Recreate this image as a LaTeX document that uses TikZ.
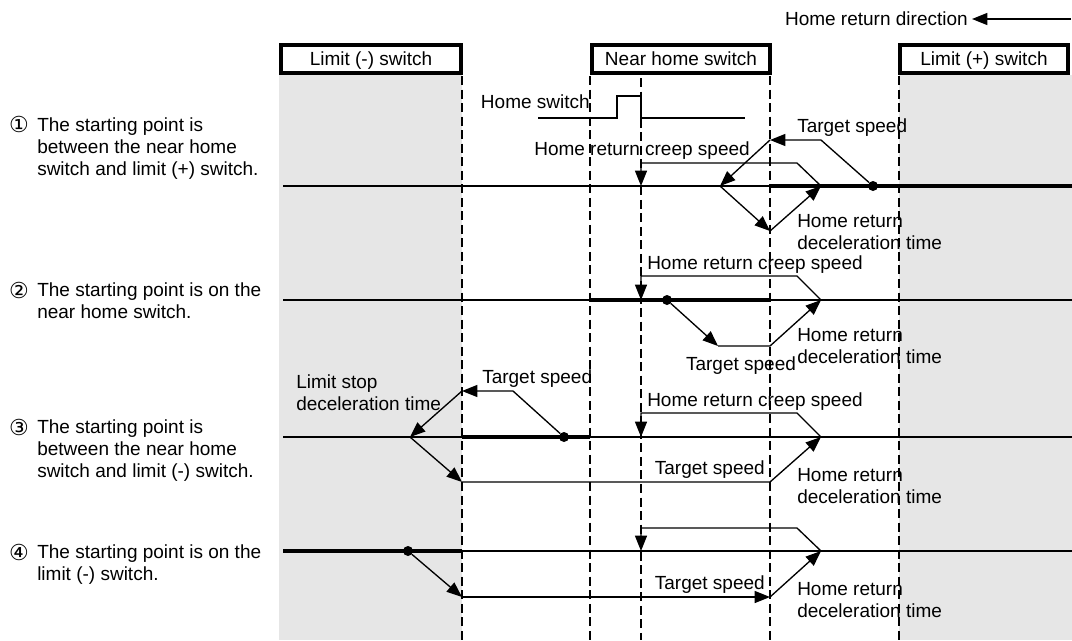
\documentclass[tikz,border=0pt]{standalone}
\usepackage{fontspec}
\setmainfont{Liberation Sans}
\newfontfamily\kreisziffer{DejaVu Sans}
\usetikzlibrary{arrows.meta}
\definecolor{zone}{RGB}{230,230,230}
\tikzset{txt/.style={inner sep=0pt, align=left, font=\fontsize{14.25pt}{16.5pt}\selectfont},
         ziffer/.style={inner sep=0pt, font=\kreisziffer\fontsize{16.5pt}{16.5pt}\selectfont},
         schalter/.style={draw, line width=3pt, fill=white, minimum height=21pt, inner sep=0pt,
                          text height=10pt, text depth=0pt, font=\fontsize{14.25pt}{16.5pt}\selectfont},
         grenze/.style={line width=1.5pt, dash pattern=on 6.75pt off 3.4pt},
         achse/.style={line width=1.5pt},
         dick/.style={line width=3.4pt},
         verlauf/.style={line width=1pt},
         punkt/.style={circle, fill=black, inner sep=0pt, minimum size=7.5pt}}

\begin{document}
\begin{tikzpicture}[>={Triangle[length=11.5pt,width=9pt]}, x=0.75pt, y=-0.75pt]
    \useasboundingbox (0,0) rectangle (1072,640);
    \fill[zone] (279,75) rectangle (462,640);
    \fill[zone] (899,75) rectangle (1072,640);
    \path node [schalter, minimum width=135pt] (lminus) at (371,59) {Limit (-) switch}
          node [schalter, minimum width=133.5pt] (near) at (681,59) {Near home switch}
          node [schalter, minimum width=126pt] (lplus) at (984,59) {Limit (+) switch};
    \foreach \x/\y in {462/76, 590/76, 641/78, 770/76, 899/76}
        \draw[grenze] (\x,\y) -- (\x,640);

    \node[txt, anchor=base east] (richtung) at (968,25) {Home return direction};
    \path coordinate (r0) at (1071,19) coordinate (r1) at (972,19)
          (r0) edge[line width=1pt, ->] (r1);

    \node[txt, anchor=base east] (hslabel) at (590,108) {Home switch};
    \draw[achse] (538,118) -- (617,118) -- (617,96) -- (641,96) -- (641,118) -- (745,118);

    \path node[ziffer] (k1) at (19,124) {①}
          node[txt, anchor=base west] (fall1) at (37,175) {The starting point is\\between the near home\\switch and limit (+) switch.}
          node[ziffer] (k2) at (19,290) {②}
          node[txt, anchor=base west] (fall2) at (37,318) {The starting point is on the\\near home switch.}
          node[ziffer] (k3) at (19,427) {③}
          node[txt, anchor=base west] (fall3) at (37,477) {The starting point is\\between the near home\\switch and limit (-) switch.}
          node[ziffer] (k4) at (19,552) {④}
          node[txt, anchor=base west] (fall4) at (37,580) {The starting point is on the\\limit (-) switch.};

    \draw[achse] (283,186) -- (1072,186);
    \draw[dick] (770,186) -- (1072,186);
    \path node [punkt] (s1) at (873,186) {}
          coordinate (a1) at (821,140) coordinate (b1) at (770,140)
          coordinate (c1) at (720,186) coordinate (d1) at (770,231)
          coordinate (e1) at (821,186) coordinate (f1) at (797,163)
          coordinate (g1) at (641,163) coordinate (h1) at (641,186);
    \draw[verlauf, ->] (s1) -- (a1) -- (b1);
    \path[verlauf, ->] (b1) edge (c1) (c1) edge (d1) (d1) edge (e1);
    \draw[verlauf, ->] (e1) -- (f1) -- (g1) -- (h1);
    \path node[txt, anchor=base west] (ts1) at (797,132) {Target speed}
          node[txt, anchor=base east] (cs1) at (750,155) {Home return creep speed}
          node[txt, anchor=base west] (dt1) at (797,249) {Home return\\deceleration time};

    \draw[achse] (283,300) -- (1072,300);
    \draw[dick] (590,300) -- (770,300);
    \path node [punkt] (s2) at (667,300) {}
          coordinate (a2) at (718,346) coordinate (b2) at (770,346)
          coordinate (e2) at (821,300) coordinate (f2) at (797,276)
          coordinate (g2) at (641,276) coordinate (h2) at (641,300);
    \path[verlauf, ->] (s2) edge (a2);
    \draw[verlauf, ->] (a2) -- (b2) -- (e2);
    \draw[verlauf, ->] (e2) -- (f2) -- (g2) -- (h2);
    \path node[txt, anchor=base west] (cs2) at (647,269) {Home return creep speed}
          node[txt, anchor=base] (ts2) at (741,370) {Target speed}
          node[txt, anchor=base west] (dt2) at (797,363) {Home return\\deceleration time};

    \draw[achse] (283,437) -- (1072,437);
    \draw[dick] (462,437) -- (590,437);
    \path node [punkt] (s3) at (564,437) {}
          coordinate (a3) at (513,391) coordinate (b3) at (462,391)
          coordinate (c3) at (410,437) coordinate (d3) at (462,482)
          coordinate (m3) at (770,482)
          coordinate (e3) at (821,437) coordinate (f3) at (797,413)
          coordinate (g3) at (641,413) coordinate (h3) at (641,437);
    \draw[verlauf, ->] (s3) -- (a3) -- (b3);
    \path[verlauf, ->] (b3) edge (c3) (c3) edge (d3);
    \draw[verlauf, ->] (d3) -- (m3) -- (e3);
    \draw[verlauf, ->] (e3) -- (f3) -- (g3) -- (h3);
    \path node[txt, anchor=base west] (ts3) at (482,383) {Target speed}
          node[txt, anchor=base west] (lt3) at (296,410) {Limit stop\\deceleration time}
          node[txt, anchor=base west] (cs3) at (647,406) {Home return creep speed}
          node[txt, anchor=base east] (tu3) at (765,474) {Target speed}
          node[txt, anchor=base west] (dt3) at (797,503) {Home return\\deceleration time};

    \draw[achse] (283,551) -- (1072,551);
    \draw[dick] (283,551) -- (462,551);
    \path node [punkt] (s4) at (408,551) {}
          coordinate (d4) at (462,597) coordinate (m4) at (770,597)
          coordinate (e4) at (821,551) coordinate (f4) at (797,528)
          coordinate (g4) at (641,528) coordinate (h4) at (641,551);
    \path[verlauf, ->] (s4) edge (d4) (d4) edge (m4) (m4) edge (e4);
    \draw[verlauf, ->] (e4) -- (f4) -- (g4) -- (h4);
    \path node[txt, anchor=base east] (tu4) at (765,589) {Target speed}
          node[txt, anchor=base west] (dt4) at (797,617) {Home return\\deceleration time};
\end{tikzpicture}
\end{document}
